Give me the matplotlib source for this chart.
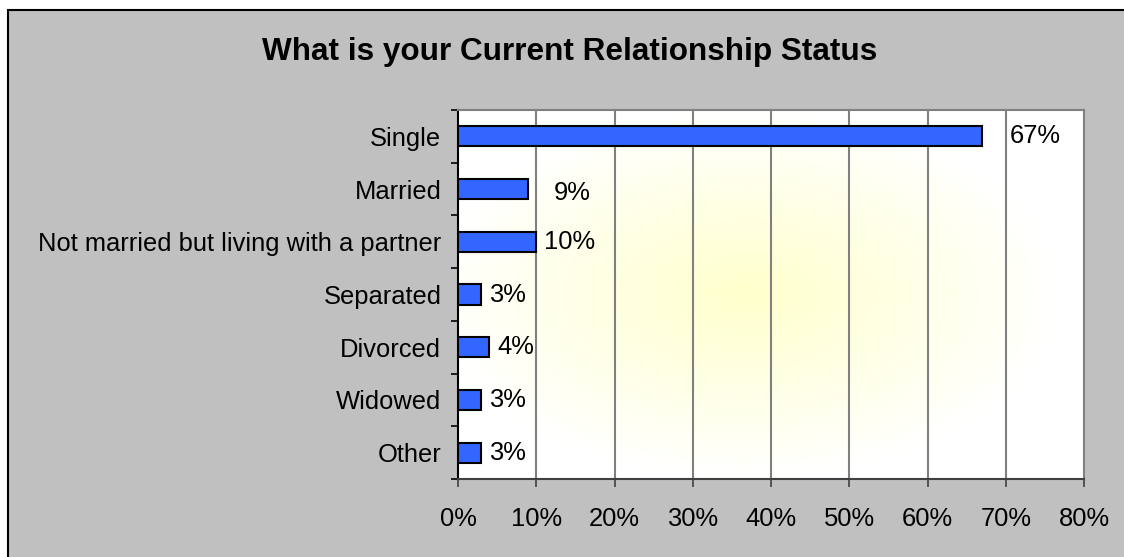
import numpy as np
from matplotlib import pyplot as plt
from matplotlib.patches import Rectangle

categories = ['Single', 'Married', 'Not married but living with a partner',
              'Separated', 'Divorced', 'Widowed', 'Other']
values = [67, 9, 10, 3, 4, 3, 3]
x_ticks = [0, 10, 20, 30, 40, 50, 60, 70, 80]
x_labels = ['0%', '10%', '20%', '30%', '40%', '50%', '60%', '70%', '80%']
title = 'What is your Current Relationship Status'

plt.rcParams['font.family'] = ['Liberation Sans', 'DejaVu Sans']

fig = plt.figure(figsize=(11.24, 5.57), dpi=100)
fig.patch.set_facecolor('white')
# grey chart area with black frame on top/left
fig.patches.append(Rectangle((8 / 1124, -0.05), 1.2, 1 - 10 / 557 + 0.05,
                             transform=fig.transFigure, facecolor='#c0c0c0',
                             edgecolor='black', linewidth=1.5, zorder=-10))

ax = fig.add_axes([458 / 1124, 1 - 479 / 557, 626 / 1124, 369 / 557])
ax.set_zorder(5)

# radial yellow gradient in plot area
gx, gy = np.meshgrid(np.linspace(-1, 1, 300), np.linspace(-1, 1, 200))
r = np.clip(np.sqrt((gx + 0.08) ** 2 + gy ** 2) / 1.0, 0, 1)
c0 = np.array([1.0, 1.0, 0.80])
c1 = np.array([1.0, 1.0, 1.0])
img = c0[None, None, :] * (1 - r[..., None]) + c1[None, None, :] * r[..., None]
ax.imshow(img, extent=[0, 80, 6.5, -0.5], aspect='auto', zorder=0)

y = np.arange(len(categories))
ax.barh(y, values, height=0.38, color='#3366ff', edgecolor='black',
        linewidth=1.5, zorder=3)

for xt in x_ticks[1:-1]:
    ax.axvline(xt, color='#808080', linewidth=1.5, zorder=1)

# label placement as in the original (Excel nudged a couple of them)
offsets = {0: (27, 0), 1: (25, -4)}
for i, v in enumerate(values):
    dx, dy = offsets.get(i, (8, 0))
    ax.annotate(f'{v}%', (v, i), xytext=(dx * 0.72, dy * 0.72),
                textcoords='offset points', va='center', ha='left',
                fontsize=18.4, color='black', zorder=4)

ax.set_xlim(0, 80)
ax.set_ylim(6.5, -0.5)
ax.set_xticks(x_ticks)
ax.set_xticklabels(x_labels, fontsize=18.4)
ax.set_yticks(y)
ax.set_yticklabels(categories, fontsize=18.4)
ax.set_yticks(np.arange(-0.5, 7, 1), minor=True)
ax.tick_params(axis='y', which='major', length=0, pad=12)
ax.tick_params(axis='y', which='minor', length=5, width=1.2, color='black')
ax.tick_params(axis='x', length=5.5, width=1.2, color='#404040', pad=15)

ax.spines['left'].set_color('black')
ax.spines['bottom'].set_color('#404040')
ax.spines['top'].set_color('#808080')
ax.spines['right'].set_color('#808080')
for s in ax.spines.values():
    s.set_linewidth(1.5)

fig.text(570 / 1124, 1 - 52 / 557, title, ha='center', va='center',
         fontsize=22.7, fontweight='bold')

fig.savefig('out.png', dpi=100)
